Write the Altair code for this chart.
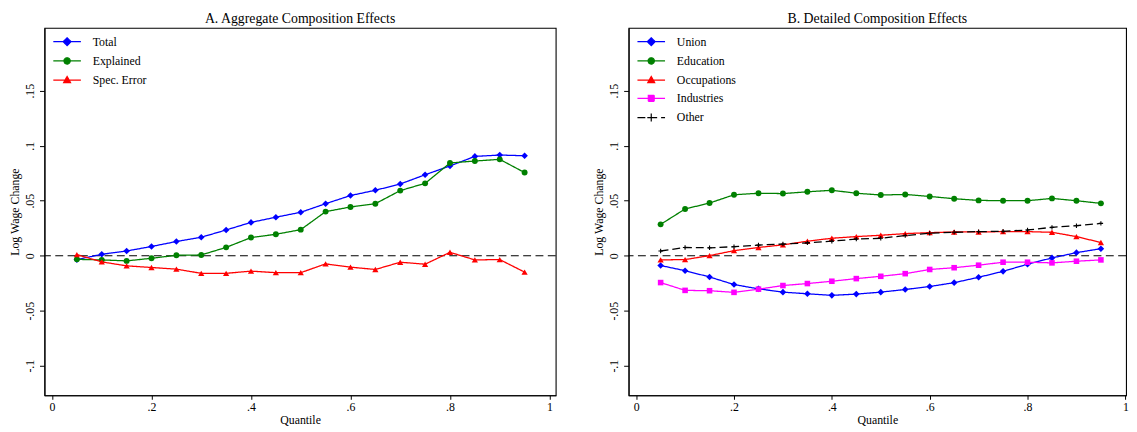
import altair as alt
import pandas as pd

FONT = "Liberation Serif"

QUANTILES = [0.05, 0.10, 0.15, 0.20, 0.25, 0.30, 0.35, 0.40, 0.45, 0.50,
             0.55, 0.60, 0.65, 0.70, 0.75, 0.80, 0.85, 0.90, 0.95]

# Panel A
A_SERIES = ["Total", "Explained", "Spec. Error"]
TOTAL = [-0.0035, 0.0013, 0.0043, 0.0084, 0.0129, 0.0168, 0.0234, 0.0303, 0.0350, 0.0395,
         0.0473, 0.0547, 0.0595, 0.0652, 0.0736, 0.0816, 0.0903, 0.0915, 0.0909]
EXPLAINED = [-0.0033, -0.0038, -0.0047, -0.0023, 0.0004, 0.0007, 0.0076, 0.0165, 0.0195, 0.0237,
             0.0401, 0.0443, 0.0473, 0.0592, 0.0658, 0.0843, 0.0861, 0.0876, 0.0756]
SPEC_ERROR = [0.0010, -0.0056, -0.0092, -0.0107, -0.0122, -0.0160, -0.0160, -0.0140, -0.0154, -0.0154,
              -0.0074, -0.0104, -0.0125, -0.0059, -0.0077, 0.0031, -0.0038, -0.0035, -0.0149]

# Panel B
B_SERIES = ["Union", "Education", "Occupations", "Industries", "Other"]
UNION = [-0.0089, -0.0136, -0.0193, -0.0262, -0.0301, -0.0331, -0.0346, -0.0360, -0.0349, -0.0331,
         -0.0307, -0.0280, -0.0245, -0.0196, -0.0142, -0.0077, -0.0020, 0.0028, 0.0064]
EDUCATION = [0.0285, 0.0425, 0.0479, 0.0554, 0.0568, 0.0565, 0.0581, 0.0595, 0.0568, 0.0552,
             0.0557, 0.0539, 0.0518, 0.0503, 0.0500, 0.0500, 0.0521, 0.0500, 0.0476]
OCCUPATIONS = [-0.0038, -0.0035, 0.0001, 0.0046, 0.0075, 0.0099, 0.0132, 0.0159, 0.0174, 0.0186,
               0.0201, 0.0210, 0.0216, 0.0216, 0.0219, 0.0219, 0.0213, 0.0174, 0.0120]
INDUSTRIES = [-0.0244, -0.0315, -0.0318, -0.0333, -0.0304, -0.0271, -0.0253, -0.0232, -0.0208, -0.0187,
              -0.0163, -0.0125, -0.0109, -0.0086, -0.0059, -0.0059, -0.0065, -0.0050, -0.0038]
OTHER = [0.0043, 0.0075, 0.0072, 0.0082, 0.0097, 0.0106, 0.0117, 0.0132, 0.0151, 0.0159,
         0.0183, 0.0204, 0.0213, 0.0219, 0.0222, 0.0234, 0.0258, 0.0273, 0.0294]

X_TICKS = [0, 0.2, 0.4, 0.6, 0.8, 1]
X_TICK_LABELS = ["0", ".2", ".4", ".6", ".8", "1"]
Y_TICKS = [-0.1, -0.05, 0, 0.05, 0.1, 0.15]
Y_TICK_LABELS = ["-.1", "-.05", "0", ".05", ".1", ".15"]

TITLE_A = "A. Aggregate Composition Effects"
TITLE_B = "B. Detailed Composition Effects"
X_TITLE = "Quantile"
Y_TITLE = "Log Wage Change"

# styles
BLUE, GREEN, RED, MAGENTA, BLACK = "#0000ff", "#008000", "#ff0000", "#ff00ff", "#000000"
A_COLORS = [BLUE, GREEN, RED]
B_COLORS = [BLUE, GREEN, RED, MAGENTA, BLACK]
PLUS = "M-1,0H1M0,-1V1"
A_MARKS = [("diamond", 45, True), ("circle", 36, True), ("triangle-up", 40, True)]
B_MARKS = [("diamond", 45, True), ("circle", 36, True), ("triangle-up", 40, True),
           ("square", 32, True), (PLUS, 20, False)]
A_DASH = [[1, 0], [1, 0], [1, 0]]
B_DASH = [[1, 0], [1, 0], [1, 0], [1, 0], [8, 4]]

LINE = "M-1,0H4.6"
LEG_MARK = {
    "diamond": "M1.8,-0.8L2.6,0L1.8,0.8L1,0Z",
    "circle": "M1.16,0A0.64,0.64 0 1,0 2.44,0A0.64,0.64 0 1,0 1.16,0Z",
    "triangle-up": "M1.8,-0.75L2.5,0.5L1.1,0.5Z",
    "square": "M1.2,-0.6H2.4V0.6H1.2Z",
    PLUS: "M1.8,-0.8V0.8M1,0H2.6",
}

Y_DOMAIN = [-0.1269, 0.2071]
A_X_DOMAIN = [-0.0152, 1.0125]
B_X_DOMAIN = [-0.0155, 1.0014]


def label_expr(values, labels):
    expr = "''"
    for v, l in reversed(list(zip(values, labels))):
        expr = f"abs(datum.value - ({v})) < 1e-9 ? '{l}' : {expr}"
    return expr


def pick_expr(series, vals):
    expr = "null"
    for s, v in reversed(list(zip(series, vals))):
        expr = f"datum.value == '{s}' ? {v} : {expr}"
    return expr


def long_df(series, arrays):
    rows = []
    for s, arr in zip(series, arrays):
        for q, v in zip(QUANTILES, arr):
            rows.append({"q": q, "v": v, "series": s})
    return pd.DataFrame(rows)


def panel(series, arrays, colors, marks, dashes, title, x_domain, width):
    df = long_df(series, arrays)
    x_axis = alt.Axis(values=X_TICKS, labelExpr=label_expr(X_TICKS, X_TICK_LABELS),
                      tickSize=4, labelPadding=2, titlePadding=3, labelFlush=False,
                      labelOverlap=False, grid=False)
    y_axis = alt.Axis(values=Y_TICKS, labelExpr=label_expr(Y_TICKS, Y_TICK_LABELS),
                      labelAngle=270, labelAlign="center", labelBaseline="bottom",
                      tickSize=5, labelPadding=3, titlePadding=2, labelFlush=False,
                      labelOverlap=False, grid=False)
    x = alt.X("q:Q", scale=alt.Scale(domain=x_domain, nice=False, zero=False),
              axis=x_axis, title=X_TITLE)
    y = alt.Y("v:Q", scale=alt.Scale(domain=Y_DOMAIN, nice=False, zero=False),
              axis=y_axis, title=Y_TITLE)

    shapes = [f"'{LINE}{LEG_MARK[m[0]]}'" for m in marks]
    strokes = [f"'{c}'" for c in colors]
    dash_e = [f"[{d[0]},{d[1]}]" for d in dashes]
    legend = alt.Legend(
        title=None, orient="top-left", offset=8, padding=0,
        labelFont=FONT, labelFontSize=12, labelColor="black", labelOffset=29,
        symbolSize=100, rowPadding=6.5, labelLimit=0,
        symbolType={"expr": pick_expr(series, shapes)},
        symbolStrokeColor={"expr": pick_expr(series, strokes)},
        symbolDash={"expr": pick_expr(series, dash_e)},
        symbolStrokeWidth=1.2, symbolOpacity=1,
    )

    zero = alt.Chart(pd.DataFrame({"v": [0.0]})).mark_rule(
        color="black", strokeDash=[8, 4.5], strokeWidth=1.2
    ).encode(y=alt.Y("v:Q", scale=alt.Scale(domain=Y_DOMAIN, nice=False, zero=False),
                     axis=y_axis, title=Y_TITLE))

    layers = [zero]
    for s, c, d, (shape, size, filled) in zip(series, colors, dashes, marks):
        sub = alt.Chart(df).transform_filter(alt.datum.series == s)
        layers.append(sub.mark_line(strokeWidth=1.3, color=c, strokeDash=d).encode(x=x, y=y))
        layers.append(sub.mark_point(shape=shape, size=size, filled=filled, color=c,
                                     opacity=1, strokeWidth=1.1).encode(x=x, y=y))

    carrier = alt.Chart(df).mark_point(filled=True, size=0).encode(
        x=x, y=y,
        color=alt.Color("series:N", scale=alt.Scale(domain=series, range=colors), legend=legend),
    )
    layers.append(carrier)

    return alt.layer(*layers).properties(
        width=width, height=373,
        title=alt.TitleParams(title, font=FONT, fontSize=14, fontWeight="normal",
                              color="black", offset=2, anchor="middle"),
    )


pa = panel(A_SERIES, [TOTAL, EXPLAINED, SPEC_ERROR], A_COLORS, A_MARKS, A_DASH,
           TITLE_A, A_X_DOMAIN, 519)
pb = panel(B_SERIES, [UNION, EDUCATION, OCCUPATIONS, INDUSTRIES, OTHER], B_COLORS, B_MARKS, B_DASH,
           TITLE_B, B_X_DOMAIN, 505)

chart = alt.hconcat(pa, pb, spacing=35).resolve_scale(
    x="independent", y="independent", color="independent"
).resolve_legend(color="independent").properties(
    padding=0, background="white"
).configure_view(stroke="black", strokeWidth=1.1).configure_axis(
    labelFont=FONT, labelFontSize=12, labelColor="black",
    titleFont=FONT, titleFontSize=12, titleFontWeight="normal", titleColor="black",
    tickColor="black", domainColor="black", domainWidth=1.1, tickWidth=1,
)

chart.save("out.html", embed_options={"renderer": "svg", "actions": False})
